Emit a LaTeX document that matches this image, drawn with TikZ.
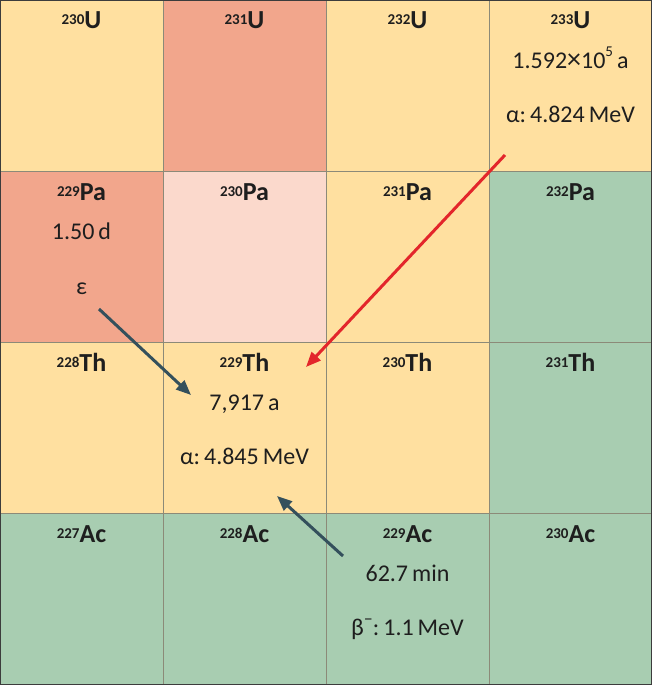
\documentclass[tikz,border=0pt]{standalone}
\usepackage{fontspec}
\setmainfont{Carlito}
\usetikzlibrary{arrows.meta}
\definecolor{cyel}{HTML}{FFE0A0}
\definecolor{csal}{HTML}{F2A68C}
\definecolor{cpink}{HTML}{FBD9CC}
\definecolor{cgrn}{HTML}{A8CDB1}
\definecolor{cgrid}{HTML}{8C8A78}
\definecolor{cframe}{HTML}{3C3C3C}
\definecolor{cslate}{HTML}{34505C}
\definecolor{cred}{HTML}{E3262B}
\definecolor{ctext}{HTML}{1E1E1E}
\newcommand{\iso}[2]{\raisebox{0.40em}{\fontsize{15}{15}\selectfont\bfseries #1}{\fontsize{26}{26}\selectfont\bfseries #2}}
\begin{document}
\begin{tikzpicture}[x=1pt,y=-1pt,
  title/.style={anchor=base,inner sep=0pt,text=ctext},
  info/.style={anchor=base,inner sep=0pt,text=ctext,font=\fontsize{24}{24}\selectfont},
  decay/.style={line width=3pt,-{Triangle[length=15pt,width=12pt]}}]
\useasboundingbox (0,0) rectangle (652,685);
% cells
\fill[cyel]  (0,0) rectangle (163,171);
\fill[csal]  (163,0) rectangle (326,171);
\fill[cyel]  (326,0) rectangle (489,171);
\fill[cyel]  (489,0) rectangle (652,171);
\fill[csal]  (0,171) rectangle (163,342);
\fill[cpink] (163,171) rectangle (326,342);
\fill[cyel]  (326,171) rectangle (489,342);
\fill[cgrn]  (489,171) rectangle (652,342);
\fill[cyel]  (0,342) rectangle (163,513);
\fill[cyel]  (163,342) rectangle (326,513);
\fill[cyel]  (326,342) rectangle (489,513);
\fill[cgrn]  (489,342) rectangle (652,513);
\fill[cgrn]  (0,513) rectangle (652,685);
% grid
\draw[cgrid,line width=0.8pt] (163,0) -- (163,685) (326,0) -- (326,685) (489,0) -- (489,685)
  (0,171) -- (652,171) (0,342) -- (652,342) (0,513) -- (652,513);
\draw[cframe,line width=1.6pt] (0,0) rectangle (652,685);
% row 0
\node[title] (u230) at (81.5,29) {\iso{230}{U}};
\node[title] (u231) at (244.5,29) {\iso{231}{U}};
\node[title] (u232) at (407.5,29) {\iso{232}{U}};
\node[title] (u233) at (570.5,29) {\iso{233}{U}};
\node[info] (u233h) at (570.5,68) {1.592{\fontsize{28}{28}\selectfont ×}10\raisebox{0.5em}{\fontsize{15}{15}\selectfont 5}\,a};
\node[info] (u233e) at (570.5,122) {α:\,4.824\,MeV};
% row 1
\node[title] (pa229) at (81.5,200) {\iso{229}{Pa}};
\node[info] (pa229h) at (81.5,239) {1.50\,d};
\node[info] (pa229e) at (81.5,294) {ε};
\node[title] (pa230) at (244.5,200) {\iso{230}{Pa}};
\node[title] (pa231) at (407.5,200) {\iso{231}{Pa}};
\node[title] (pa232) at (570.5,200) {\iso{232}{Pa}};
% row 2
\node[title] (th228) at (81.5,371) {\iso{228}{Th}};
\node[title] (th229) at (244.5,371) {\iso{229}{Th}};
\node[info] (th229h) at (244.5,410) {7,917\,a};
\node[info] (th229e) at (244.5,464) {α:\,4.845\,MeV};
\node[title] (th230) at (407.5,371) {\iso{230}{Th}};
\node[title] (th231) at (570.5,371) {\iso{231}{Th}};
% row 3
\node[title] (ac227) at (81.5,542) {\iso{227}{Ac}};
\node[title] (ac228) at (244.5,542) {\iso{228}{Ac}};
\node[title] (ac229) at (407.5,542) {\iso{229}{Ac}};
\node[info] (ac229h) at (407.5,581) {62.7\,min};
\node[info] (ac229e) at (407.5,635) {β\raisebox{0.42em}{\fontsize{18}{18}\selectfont –}:\,1.1\,MeV};
\node[title] (ac230) at (570.5,542) {\iso{230}{Ac}};
% arrows
\coordinate (rs) at (505,155);
\coordinate (re) at (306,367);
\coordinate (as) at (99,309);
\coordinate (ae) at (191,395);
\coordinate (bs) at (343,556);
\coordinate (be) at (277,496);
\draw[decay,cred] (rs) -- (re);
\draw[decay,cslate] (as) -- (ae);
\draw[decay,cslate] (bs) -- (be);
\end{tikzpicture}
\end{document}
